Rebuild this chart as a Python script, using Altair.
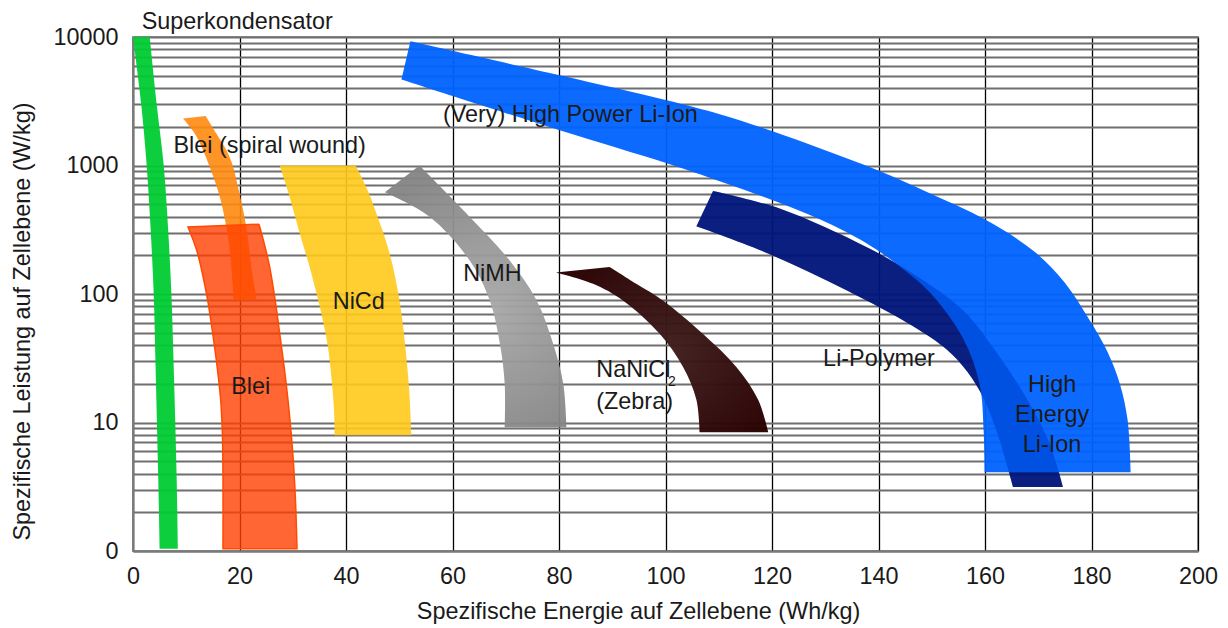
import altair as alt
import pandas as pd

# --- Ragone diagram: specific power vs. specific energy at cell level ---

# Axis grid values
X_GRID = [0, 20, 40, 60, 80, 100, 120, 140, 160, 180, 200]
Y_GRID = [m * 10 ** k for k in range(4) for m in range(1, 10)] + [10000]

# Each technology region is bounded by an outer (high-energy) edge and an inner edge,
# both listed from the high-power end down to the low-power end.
# Energy in Wh/kg, power in W/kg.
SUPERCAP_OUT_E = [3.14, 4.45, 5.77, 6.61, 7.21, 7.61, 7.94, 8.21, 8.43]
SUPERCAP_OUT_P = [10000, 3000, 1000, 313, 100, 30.5, 10, 3.55, 1.04]
SUPERCAP_IN_E = [0.0, 1.54, 2.57, 3.32, 3.89, 4.21, 4.49, 4.75, 5.01]
SUPERCAP_IN_P = [10000, 3000, 1000, 313, 100, 30.5, 10, 3.55, 1.04]

BLEI_SW_OUT_E = [13.65, 15.66, 17.54, 18.72, 19.57, 20.41, 21.16, 21.73, 22.23, 22.76, 23.17]
BLEI_SW_OUT_P = [2428, 1771, 1313, 1004, 723, 508, 353, 239, 162, 117, 90.4]
BLEI_SW_IN_E = [9.39, 11.59, 13.15, 14.4, 15.53, 16.47, 17.41, 18.07, 18.48, 18.91]
BLEI_SW_IN_P = [2317, 1771, 1313, 973, 723, 536, 353, 239, 162, 90.4]

BLEI_OUT_E = [23.66, 24.73, 25.67, 26.70, 27.55, 28.39, 29.11, 29.71, 30.18, 30.55, 30.80]
BLEI_OUT_P = [349, 239, 162, 89.3, 49.2, 27, 14.9, 8.2, 4.5, 2.27, 1.04]
BLEI_IN_E = [10.33, 11.96, 13.1, 14.03, 14.97, 15.81, 16.47, 16.79, 16.90, 16.90]
BLEI_IN_P = [332, 219, 140, 89.3, 49.4, 27, 14.9, 8.2, 3.55, 1.04]

NICD_OUT_E = [41.82, 44.07, 45.95, 47.45, 48.77, 49.71, 50.46, 51.21, 51.87, 52.28]
NICD_OUT_P = [1000, 641, 397, 262, 167, 107, 68.3, 36.5, 17.8, 7.95]
NICD_IN_E = [27.54, 29.05, 30.46, 31.68, 33.09, 34.31, 35.44, 36.56, 37.31, 37.75, 37.88]
NICD_IN_P = [1000, 641, 397, 262, 167, 107, 68.3, 39.9, 21.3, 12.4, 7.95]

NIMH_OUT_E = [53.8, 63.2, 70.7, 75.8, 78.9, 80.8, 81.4]
NIMH_OUT_P = [1000, 400, 183, 89, 41, 20, 9.2]
NIMH_IN_E = [47.3, 55.7, 63.2, 67.0, 68.9, 69.8, 69.8]
NIMH_IN_P = [620, 400, 183, 89, 41, 20, 9.2]

ZEBRA_OUT_E = [89.5, 94.5, 99.5, 107.0, 113.3, 117.4, 119.3]
ZEBRA_OUT_P = [162, 120, 89, 49, 27, 15, 8.4]
ZEBRA_IN_E = [79.4, 86.4, 92.0, 98.9, 103.3, 105.8, 106.4]
ZEBRA_IN_P = [147, 120, 89, 49, 27, 15, 8.4]

LIPOLY_OUT_E = [108.93, 121.45, 137.73, 146.48, 155.87, 162.76, 168.39, 172.14, 174.64]
LIPOLY_OUT_P = [633, 462, 232, 144, 74.7, 32.3, 14.0, 6.85, 3.15]
LIPOLY_IN_E = [105.80, 119.57, 133.97, 146.48, 152.75, 156.75, 159.75, 162.0, 163.69, 165.26]
LIPOLY_IN_P = [336, 204, 107, 56.1, 37.1, 24.6, 15.4, 9.01, 5.39, 3.15]

LIION_OUT_E = [52.09, 80.13, 100.23, 110.18, 120.13, 128.96, 139.85, 149.62, 159.94, 168.95,
               174.96, 179.66, 183.04, 185.29, 186.79, 187.36]
LIION_OUT_P = [9253, 5035, 3215, 2503, 1846, 1361, 918, 608, 381, 219,
               123, 62.4, 35.2, 20.2, 10.4, 4.1]
LIION_IN_E = [50.41, 80.13, 100.23, 110.18, 120.13, 128.96, 137.73, 143.98, 149.62, 155.87, 159.0, 159.74, 159.94]
LIION_IN_P = [4660, 1879, 1040, 754, 536, 381, 248, 164, 103, 45.2, 19.8, 8.7, 4.1]

# Region labels
LEFT_TEXT = ["Superkondensator", "Blei (spiral wound)", "NaNiCl", "(Zebra)", "Li-Polymer", "(Very) High Power Li-Ion"]
LEFT_E = [1.63, 7.6, 87.0, 87.0, 129.6, 58.2]
LEFT_P = [13000, 1410, 25.5, 14.4, 31.4, 2460]

CENTER_TEXT = ["Blei", "NiCd", "NiMH", "High", "Energy", "Li-Ion"]
CENTER_E = [22.1, 42.4, 67.5, 172.6, 172.6, 172.6]
CENTER_P = [18.8, 86.7, 142, 19.5, 11.4, 6.65]

SUB_TEXT = ["2"]
SUB_E = [101.2]
SUB_P = [20.7]

FONT = "Liberation Sans"
FS = 23.4
INK = "#1a1a1a"


def outline(out_e, out_p, in_e, in_p, closed=False):
    """Polygon outline: outer edge, then inner edge reversed; edge ends doubled so the caps stay sharp."""
    outer = list(zip(out_e, out_p))
    inner = list(zip(in_e, in_p))[::-1]
    pts = [outer[0]] + outer + [outer[-1]] + [inner[0]] + inner + [inner[-1]]
    if closed:
        pts.append(outer[0])
    return pd.DataFrame([{"E": e, "P": p, "i": k} for k, (e, p) in enumerate(pts)])


x_enc = alt.X(
    "E:Q",
    scale=alt.Scale(domain=[0, 200], nice=False, zero=False),
    axis=alt.Axis(
        values=X_GRID, grid=True, gridColor="#000000", gridWidth=1.3, gridOpacity=1,
        ticks=False, tickSize=0, domainColor="#7a7a7a", domainWidth=2,
        labelFont=FONT, labelFontSize=FS, labelColor=INK, labelPadding=14,
        labelFlush=False, labelOverlap=False,
        title="Spezifische Energie auf Zellebene (Wh/kg)",
        titleFont=FONT, titleFontSize=FS, titleFontWeight="normal", titleColor=INK,
        titleX=505, titleY=60, titleAlign="center", titleBaseline="middle",
    ),
)

y_enc = alt.Y(
    "P:Q",
    scale=alt.Scale(type="log", domain=[1, 10000], nice=False),
    axis=alt.Axis(
        values=Y_GRID, grid=True, gridColor="#6e6e6e", gridWidth=1.8, gridOpacity=1,
        ticks=False, tickSize=0, domainColor="#7a7a7a", domainWidth=2,
        labelExpr="datum.value == 1 ? '0' : (datum.value == 10 || datum.value == 100 || datum.value == 1000 || datum.value == 10000) ? format(datum.value, 'd') : ''",
        labelFont=FONT, labelFontSize=FS, labelColor=INK, labelPadding=15,
        labelFlush=False, labelOverlap=False,
        title="Spezifische Leistung auf Zellebene (W/kg)",
        titleFont=FONT, titleFontSize=FS, titleFontWeight="normal", titleColor=INK,
        titleAngle=270, titleX=-111, titleY=284, titleAlign="center", titleBaseline="middle",
    ),
)


def region(out_e, out_p, in_e, in_p, fill, opacity=0.92, stroke=None, stroke_width=0):
    props = dict(fill=fill, fillOpacity=opacity, interpolate="catmull-rom")
    if stroke:
        props.update(stroke=stroke, strokeWidth=stroke_width, strokeOpacity=1)
    else:
        props.update(strokeWidth=0, strokeOpacity=0)
    data = outline(out_e, out_p, in_e, in_p, closed=bool(stroke))
    return alt.Chart(data).mark_line(**props).encode(
        x=x_enc, y=y_enc, order=alt.Order("i:Q")
    )


nimh_fill = {
    "gradient": "radial",
    "stops": [{"offset": 0, "color": "#a8a8a8"}, {"offset": 1, "color": "#848484"}],
    "x1": 0.55, "y1": 0.55, "r1": 0, "x2": 0.55, "y2": 0.55, "r2": 0.55,
}
zebra_fill = {
    "gradient": "radial",
    "stops": [{"offset": 0, "color": "#3f1c1c"}, {"offset": 1, "color": "#280000"}],
    "x1": 0.55, "y1": 0.5, "r1": 0, "x2": 0.55, "y2": 0.5, "r2": 0.55,
}

layers = [
    region(SUPERCAP_OUT_E, SUPERCAP_OUT_P, SUPERCAP_IN_E, SUPERCAP_IN_P, "#00cc33", 0.95),
    region(BLEI_SW_OUT_E, BLEI_SW_OUT_P, BLEI_SW_IN_E, BLEI_SW_IN_P, "#ff8a10", 0.9),
    region(BLEI_OUT_E, BLEI_OUT_P, BLEI_IN_E, BLEI_IN_P, "#ff4000", 0.8, stroke="#ff4a00", stroke_width=1.5),
    region(NICD_OUT_E, NICD_OUT_P, NICD_IN_E, NICD_IN_P, "#ffca1c", 0.9),
    region(NIMH_OUT_E, NIMH_OUT_P, NIMH_IN_E, NIMH_IN_P, nimh_fill, 0.95),
    region(ZEBRA_OUT_E, ZEBRA_OUT_P, ZEBRA_IN_E, ZEBRA_IN_P, zebra_fill, 0.97),
    region(LIPOLY_OUT_E, LIPOLY_OUT_P, LIPOLY_IN_E, LIPOLY_IN_P, "#00157a", 0.95),
    region(LIION_OUT_E, LIION_OUT_P, LIION_IN_E, LIION_IN_P, "#0062ff", 0.95),
    # Li-Polymer shows through the Li-Ion band where they overlap
    region(LIPOLY_OUT_E, LIPOLY_OUT_P, LIPOLY_IN_E, LIPOLY_IN_P, "#00157a", 0.18),
]

left_labels = alt.Chart(pd.DataFrame({"t": LEFT_TEXT, "E": LEFT_E, "P": LEFT_P})).mark_text(
    font=FONT, fontSize=FS, color=INK, align="left", baseline="middle"
).encode(x=x_enc, y=y_enc, text="t:N")

center_labels = alt.Chart(pd.DataFrame({"t": CENTER_TEXT, "E": CENTER_E, "P": CENTER_P})).mark_text(
    font=FONT, fontSize=FS, color=INK, align="center", baseline="middle"
).encode(x=x_enc, y=y_enc, text="t:N")

sub_labels = alt.Chart(pd.DataFrame({"t": SUB_TEXT, "E": SUB_E, "P": SUB_P})).mark_text(
    font=FONT, fontSize=14, color=INK, align="center", baseline="middle"
).encode(x=x_enc, y=y_enc, text="t:N")

chart = alt.layer(*layers, left_labels, center_labels, sub_labels).properties(
    width=1065,
    height=514,
    autosize=alt.AutoSizeParams(type="none"),
    padding={"left": 133, "top": 37, "right": 30, "bottom": 77},
    background="white",
).configure_view(stroke="#999999", strokeWidth=2)

chart.save("out.html", embed_options={"renderer": "svg", "actions": False})
